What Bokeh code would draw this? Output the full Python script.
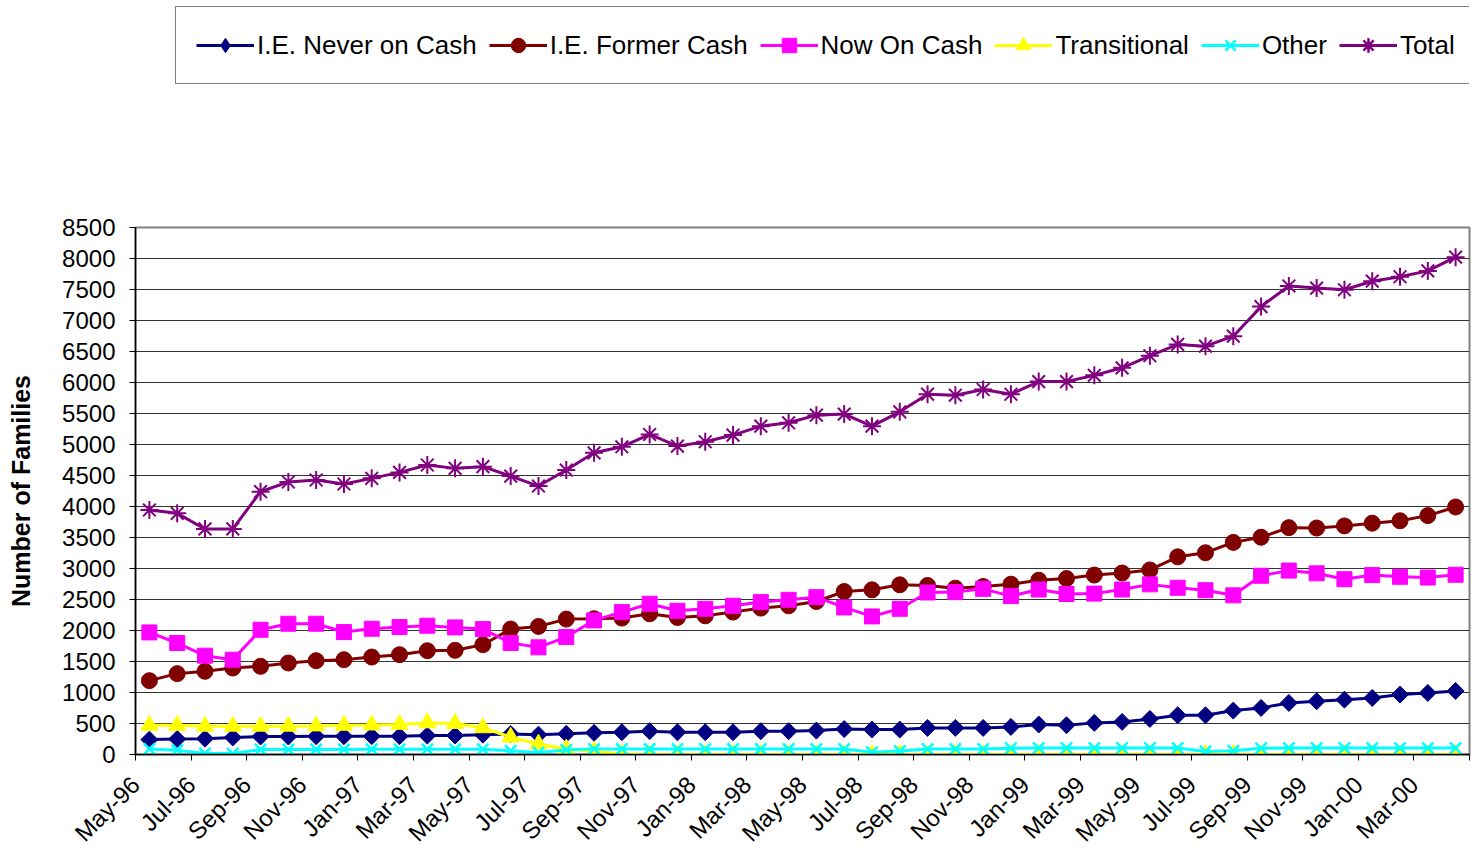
import math
from bokeh.plotting import figure
from bokeh.layouts import column
from bokeh.models import (Range1d, FixedTicker, Legend, LegendItem, SingleIntervalTicker)
from bokeh.embed import file_html
from bokeh.resources import INLINE

months = ["May-96", "Jun-96", "Jul-96", "Aug-96", "Sep-96", "Oct-96", "Nov-96", "Dec-96",
          "Jan-97", "Feb-97", "Mar-97", "Apr-97", "May-97", "Jun-97", "Jul-97", "Aug-97",
          "Sep-97", "Oct-97", "Nov-97", "Dec-97", "Jan-98", "Feb-98", "Mar-98", "Apr-98",
          "May-98", "Jun-98", "Jul-98", "Aug-98", "Sep-98", "Oct-98", "Nov-98", "Dec-98",
          "Jan-99", "Feb-99", "Mar-99", "Apr-99", "May-99", "Jun-99", "Jul-99", "Aug-99",
          "Sep-99", "Oct-99", "Nov-99", "Dec-99", "Jan-00", "Feb-00", "Mar-00", "Apr-00"]

never_on_cash = [240, 250, 255, 275, 290, 290, 295, 295, 295, 295, 305, 305,
                 320, 330, 320, 333, 349, 359, 376, 359, 359, 359, 376, 376,
                 386, 410, 402, 402, 429, 429, 429, 445, 483, 472, 510, 526,
                 574, 633, 633, 708, 751, 832, 859, 885, 912, 966, 993, 1025]

former_cash = [1191, 1304, 1342, 1395, 1422, 1476, 1513, 1529, 1572, 1610, 1674, 1680,
               1771, 2023, 2066, 2184, 2190, 2200, 2270, 2210, 2237, 2297, 2361, 2399,
               2468, 2629, 2656, 2737, 2726, 2683, 2710, 2747, 2811, 2838, 2894, 2927,
               2977, 3188, 3254, 3421, 3504, 3659, 3653, 3687, 3731, 3770, 3853, 3992]

now_on_cash = [1969, 1798, 1594, 1529, 2012, 2109, 2109, 1975, 2028, 2055, 2077, 2050,
               2023, 1798, 1728, 1894, 2163, 2297, 2431, 2318, 2350, 2399, 2458, 2495,
               2538, 2372, 2227, 2350, 2613, 2619, 2672, 2555, 2661, 2589, 2595, 2661,
               2744, 2689, 2650, 2567, 2883, 2966, 2922, 2827, 2894, 2866, 2855, 2899]

transitional = [470, 470, 455, 455, 455, 455, 460, 470, 475, 485, 510, 500,
                430, 280, 170, 90, 50, 10, 0, 0, 0, 0, 0, 0,
                0, 0, 0, 0, 0, 0, 0, 0, 0, 0, 0, 0,
                0, 0, 0, 0, 0, 0, 0, 0, 0, 0, 0, 0]

other = [90, 70, 15, 15, 80, 80, 80, 80, 85, 85, 85, 85,
         85, 60, 30, 75, 90, 90, 90, 90, 90, 90, 90, 90,
         90, 90, 35, 55, 90, 90, 90, 100, 105, 105, 105, 105,
         105, 105, 50, 60, 100, 105, 105, 105, 105, 105, 105, 105]

total = [3944, 3890, 3638, 3638, 4239, 4395, 4427, 4363, 4454, 4550, 4669, 4615,
         4642, 4491, 4330, 4588, 4866, 4963, 5162, 4974, 5044, 5152, 5296, 5350,
         5473, 5490, 5296, 5527, 5812, 5795, 5887, 5810, 6015, 6015, 6115, 6237,
         6431, 6614, 6586, 6747, 7224, 7557, 7523, 7496, 7634, 7706, 7800, 8022]

series_names = ["I.E. Never on Cash", "I.E. Former Cash", "Now On Cash",
                "Transitional", "Other", "Total"]

FONT = "Liberation Sans"
x = list(range(len(months)))

# ---------------- main chart ----------------
p = figure(width=1477, height=647, output_backend="svg", toolbar_location=None,
           x_range=Range1d(-0.5, len(months) - 0.5), y_range=Range1d(0, 8500),
           min_border_left=135, min_border_right=8, min_border_top=15, min_border_bottom=105)
p.background_fill_color = "white"
p.border_fill_color = "white"
p.outline_line_color = "#808080"
p.outline_line_width = 2

p.yaxis.ticker = SingleIntervalTicker(interval=500)
p.yaxis.major_label_text_font = FONT
p.yaxis.major_label_text_font_size = "24px"
p.yaxis.major_label_text_color = "black"
p.yaxis.major_label_standoff = 14
p.yaxis.major_tick_out = 6
p.yaxis.major_tick_in = 0
p.yaxis.minor_tick_line_color = None
p.yaxis.axis_line_color = "black"
p.yaxis.axis_line_width = 1.5
p.yaxis.axis_label = "Number of Families"
p.yaxis.axis_label_text_font = FONT
p.yaxis.axis_label_text_font_style = "bold"
p.yaxis.axis_label_text_font_size = "25px"
p.yaxis.axis_label_text_color = "black"
p.yaxis.axis_label_standoff = 24

# x axis: ticks on category boundaries, every second month labelled
boundaries = [i - 0.5 for i in range(0, len(months) + 1, 2)]
p.xaxis.ticker = FixedTicker(ticks=boundaries, minor_ticks=[])
p.xaxis.major_label_overrides = {b: (months[int(b + 0.5)] if b + 0.5 < len(months) else "")
                                 for b in boundaries}
p.xaxis.major_label_orientation = math.pi / 4
p.xaxis.major_label_text_font = FONT
p.xaxis.major_label_text_font_size = "24px"
p.xaxis.major_label_text_color = "black"
p.xaxis.major_label_standoff = 20
p.xaxis.major_tick_line_color = "black"
p.xaxis.major_tick_out = 6
p.xaxis.major_tick_in = 0
p.xaxis.minor_tick_line_color = None
p.xaxis.axis_line_color = "black"
p.xaxis.axis_line_width = 1.5

p.xgrid.grid_line_color = None
p.ygrid.ticker = SingleIntervalTicker(interval=500)
p.ygrid.grid_line_color = "#333333"
p.ygrid.grid_line_width = 1

styles = [
    (never_on_cash, "#000080", dict(marker="square", size=12, angle=math.pi / 4), "diamond"),
    (former_cash, "#800000", dict(marker="circle", size=16), "circle"),
    (now_on_cash, "#FF00FF", dict(marker="square", size=15), "square"),
    (transitional, "#FFFF00", dict(marker="triangle", size=17), "triangle"),
    (other, "#00FFFF", dict(marker="x", size=16, line_width=2.5), "x"),
    (total, "#800080", dict(marker="asterisk", size=18, line_width=2), "asterisk"),
]

for vals, color, mk, _ in styles:
    p.line(x, vals, line_color=color, line_width=3)
    kw = dict(mk)
    kw.setdefault("line_width", 1)
    p.scatter(x, vals, fill_color=color, line_color=color, **kw)

# ---------------- legend strip (its own glyphs lie outside its visible ranges) ----------------
lf = figure(width=1477, height=212, output_backend="svg", toolbar_location=None,
            x_axis_type=None, y_axis_type=None,
            x_range=Range1d(-1001, -1000), y_range=Range1d(-1001, -1000),
            min_border=0)
lf.outline_line_color = None
lf.grid.visible = False
lf.background_fill_color = "white"
lf.border_fill_color = "white"

items = []
for (vals, color, mk, lmarker), name in zip(styles, series_names):
    lr = lf.line(x, vals, line_color=color, line_width=3)
    lw = 2.5 if lmarker in ("x", "asterisk") else 1
    sr = lf.scatter(x, vals, marker=lmarker, fill_color=color, line_color=color, line_width=lw)
    items.append(LegendItem(label=name, renderers=[lr, sr]))

legend = Legend(items=items, orientation="horizontal", location=(40, 128),
                glyph_width=58, glyph_height=36, label_height=36,
                padding=20, spacing=12, label_standoff=3, margin=0,
                label_text_font=FONT, label_text_font_size="26px",
                label_text_color="black",
                border_line_color="black", border_line_width=1,
                background_fill_color="white", background_fill_alpha=1)
lf.add_layout(legend, "center")

layout = column(lf, p, spacing=0)
open("out.html", "w").write(file_html(layout, INLINE))
